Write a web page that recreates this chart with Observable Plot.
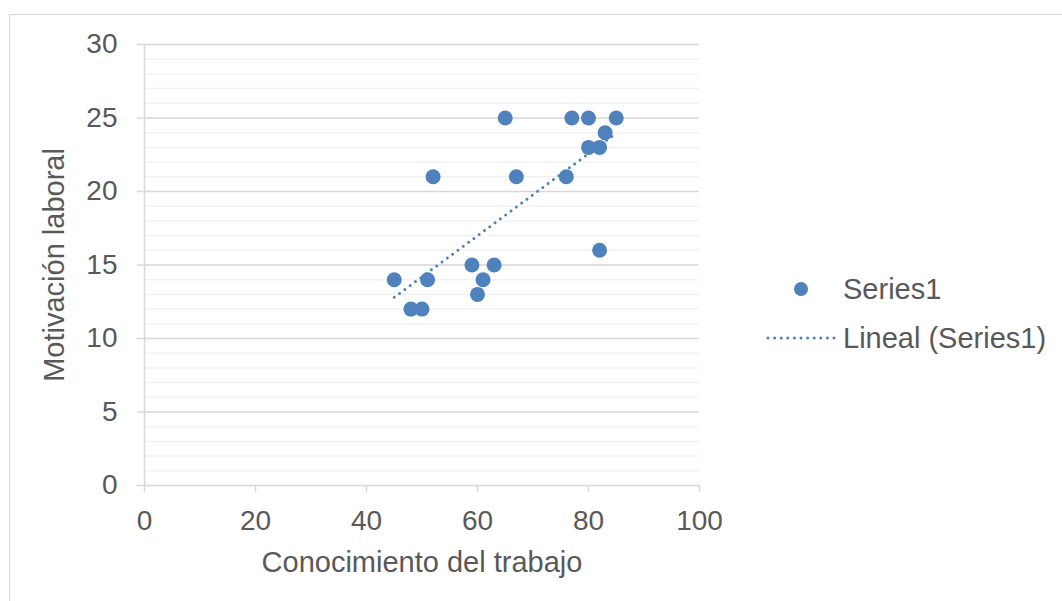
<!DOCTYPE html>
<html>
<head>
<meta charset="utf-8">
<script src="https://cdn.jsdelivr.net/npm/d3@7"></script>
<script src="https://cdn.jsdelivr.net/npm/@observablehq/plot@0.6"></script>
<style>
  html, body { margin: 0; padding: 0; background: #fff; }
  #wrap { position: relative; width: 1062px; height: 601px; overflow: hidden;
          font-family: "Liberation Sans", Arial, sans-serif; }
  #frame { position: absolute; left: 9px; top: 14px; width: 1100px; height: 700px;
           border-left: 1.5px solid #d9d9d9; border-top: 1.5px solid #d9d9d9; }
  #chart { position: absolute; left: 0; top: 0; }
  #legend { position: absolute; left: 0; top: 0; }
</style>
</head>
<body>
<div id="wrap">
  <div id="frame"></div>
  <div id="chart"></div>
  <svg id="legend" width="1062" height="601">
    <circle cx="801" cy="289" r="7" fill="#4f81bd"></circle>
    <line x1="768" x2="838" y1="338" y2="338" stroke="#4f81bd" stroke-width="3"
          stroke-dasharray="0 6.6" stroke-linecap="round"></line>
    <text x="843" y="289" dy="0.35em" fill="#595959" font-size="29"
          font-family="Liberation Sans, Arial, sans-serif">Series1</text>
    <text x="843" y="338" dy="0.35em" fill="#595959" font-size="29"
          font-family="Liberation Sans, Arial, sans-serif">Lineal (Series1)</text>
  </svg>
</div>
<script>
// Conocimiento del trabajo (x) vs. Motivación laboral (y)
const conocimiento = [45, 48, 50, 51, 52, 59, 60, 61, 63, 65, 67, 76, 77, 80, 80, 82, 82, 83, 85];
const motivacion   = [14, 12, 12, 14, 21, 15, 13, 14, 15, 25, 21, 21, 25, 25, 23, 23, 16, 24, 25];

const xTicks = [0, 20, 40, 60, 80, 100];
const yTicks = [0, 5, 10, 15, 20, 25, 30];
const yMinor = d3.range(0, 31, 1);

const xTitle = "Conocimiento del trabajo";
const yTitle = "Motivación laboral";

const data = conocimiento.map((x, i) => ({x, y: motivacion[i]}));

const blue = "#4f81bd";
const text = "#595959";
const grid = "#d9d9d9";

const chart = Plot.plot({
  width: 1062,
  height: 601,
  marginLeft: 144,
  marginRight: 363,
  marginTop: 44,
  marginBottom: 116,
  style: {fontFamily: "Liberation Sans, Arial, sans-serif", fontSize: "28px", color: text, background: "transparent"},
  x: {domain: [0, 100]},
  y: {domain: [0, 30]},
  marks: [
    // minor and major horizontal gridlines
    Plot.gridY(yMinor, {stroke: "#f2f2f2", strokeOpacity: 1, strokeWidth: 1.5}),
    Plot.gridY(yTicks, {stroke: grid, strokeOpacity: 1, strokeWidth: 1.5}),
    Plot.ruleX([0], {y1: 0, y2: 30, stroke: grid, strokeWidth: 1.5}),
    Plot.axisY(yTicks, {
      tickSize: 7, tickPadding: 20, stroke: grid, strokeWidth: 1.5, fill: text,
      fontSize: 28, label: null
    }),
    Plot.axisX(xTicks, {
      tickSize: 7, tickPadding: 18, stroke: grid, strokeWidth: 1.5, fill: text,
      fontSize: 28, label: null
    }),
    // axis titles
    Plot.text([xTitle], {frameAnchor: "bottom", dy: 77, fill: text, fontSize: 29, lineAnchor: "middle", textAnchor: "middle"}),
    Plot.text([yTitle], {frameAnchor: "left", dx: -90, rotate: -90, fill: text, fontSize: 29, lineAnchor: "middle", textAnchor: "middle"}),
    // dotted linear trend
    Plot.linearRegressionY(data, {
      x: "x", y: "y", ci: 0, stroke: blue, strokeWidth: 3,
      strokeDasharray: "0 6.6", strokeLinecap: "round"
    }),
    Plot.dot(data, {x: "x", y: "y", r: 7.5, fill: blue, stroke: "none"})
  ]
});

document.getElementById("chart").appendChild(chart);
</script>
</body>
</html>
